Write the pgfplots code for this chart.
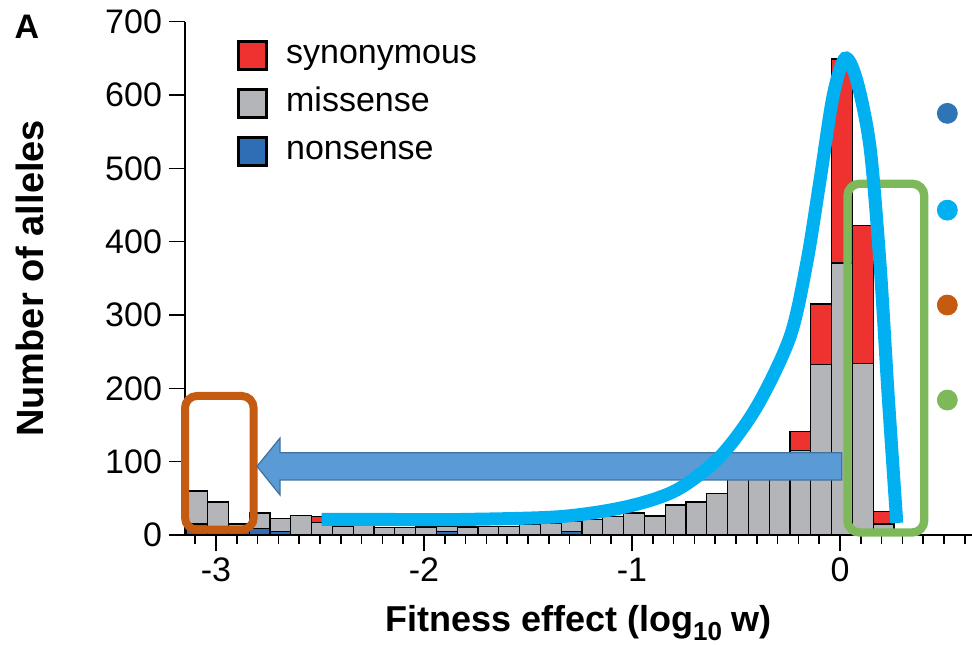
\documentclass[border=0pt]{standalone}
\usepackage{pgfplots}
\pgfplotsset{compat=1.18}
\usepackage{pgfplotstable}
\usepackage{fontspec}
\setmainfont{Liberation Sans}

\definecolor{synred}{HTML}{EE3230}
\definecolor{misgray}{HTML}{B3B5B9}
\definecolor{nonblue}{HTML}{2F6DB5}
\definecolor{curvecyan}{HTML}{00B0F0}
\definecolor{arrowblue}{HTML}{5B9BD5}
\definecolor{arrowedge}{HTML}{41719C}
\definecolor{boxorange}{HTML}{C55A11}
\definecolor{boxgreen}{HTML}{7DB85A}
\definecolor{dotblue}{HTML}{2E75B6}

% histogram of fitness effects, bins of 0.1 log10 units (bin centres)
\pgfplotstableread{
x      non mis syn
-3.09  15  45  0
-2.99  10  35  0
-2.89   8   7  0
-2.79   9  21  0
-2.69   5  18  0
-2.59   0  27  0
-2.49   0  17  8
-2.39   0  12  0
-2.29   0  14  0
-2.19   0  10  0
-2.09   0  10  0
-1.99   0  11  0
-1.89   5   7  0
-1.79   0  11  0
-1.69   0  12  0
-1.59   0  12  0
-1.49   0  15  0
-1.39   0  16  0
-1.29   5  13  0
-1.19   0  21  0
-1.09   0  25  0
-0.99   0  30  0
-0.89   0  26  0
-0.79   0  41  0
-0.69   0  45  0
-0.59   0  57  0
-0.49   0  80  0
-0.39   0 110  0
-0.29   0 113  0
-0.19   0 115 26
-0.09   0 232 83
 0.01   0 371 278
 0.11   0 234 188
 0.21   0  15 17
}\alleles

\pgfplotsset{
  panel/.style={
    scale only axis, width=393.5pt, height=256.65pt,
    xmin=-3.149, xmax=0.6346, ymin=0, ymax=700,
    clip=false,
  },
}

\begin{document}
\begin{tikzpicture}
% stacked histogram
\begin{axis}[
  panel,
  ybar stacked, bar width=0.1,
  axis lines*=left,
  axis line style={line width=0.75pt},
  x axis line style={shorten <=-7pt},
  tick align=outside,
  tick style={black, line width=0.75pt},
  major tick length=8pt, minor tick length=4.5pt,
  ytick={0,100,...,700},
  xtick={-3,-2,-1,0},
  xticklabels={-3,-2,-1,0},
  minor xtick={-3.1,-3.0,...,0.65},
  /pgf/number format/assume math mode=true,
  y tick label style={font=\fontsize{17}{17}\selectfont},
  x tick label style={font=\fontsize{17}{17}\selectfont},
  xlabel={\textbf{Fitness effect (log\raisebox{-0.45ex}{\fontsize{13}{13}\selectfont 10} w)}},
  xlabel style={font=\fontsize{18}{18}\selectfont, at={(axis description cs:0.5,-0.188)}, anchor=base},
  ylabel={\textbf{Number of alleles}},
  ylabel style={font=\fontsize{19}{19}\selectfont, at={(axis description cs:-0.197,0.5)}, anchor=center, rotate=0},
  reverse legend,
  legend cell align=left,
  legend style={at={(axis description cs:0.066,0.97)}, anchor=north west,
    draw=none, fill=none, inner sep=0pt, row sep=6pt,
    font=\fontsize{17}{17}\selectfont,
    nodes={inner sep=1pt, text height=12pt, text depth=4pt},
    /tikz/every odd column/.append style={column sep=8pt}},
  legend image code/.code={\draw[#1, line width=1.4pt] (0pt,-7pt) rectangle (14pt,7pt);},
]
\addplot[fill=nonblue, draw=black, line width=0.6pt] table[x=x, y=non] {\alleles};
\addplot[fill=misgray, draw=black, line width=0.6pt] table[x=x, y=mis] {\alleles};
\addplot[fill=synred,  draw=black, line width=0.6pt] table[x=x, y=syn] {\alleles};
\legend{nonsense, missense, synonymous}

\node[font=\bfseries\fontsize{17}{17}\selectfont] at (rel axis cs:-0.2008,0.9897) {A};

\coordinate (bbA) at (rel axis cs:-0.2351,-0.2124);
\coordinate (bbB) at (rel axis cs:1,1.0423);
\end{axis}

% highlighted regions and the shift arrow
\begin{axis}[panel, hide axis]
\draw[boxorange, line width=4pt, rounded corners=6pt]
  (axis cs:-3.149,7.2) rectangle (axis cs:-2.819,189.6);
\draw[boxgreen, line width=4.2pt, rounded corners=6pt]
  (axis cs:0.036,3.4) rectangle (axis cs:0.405,479);
\filldraw[fill=arrowblue, draw=arrowedge, line width=0.6pt]
  (axis cs:0.008,75) -- (axis cs:-2.692,75) -- (axis cs:-2.692,54.5)
  -- (axis cs:-2.803,93.6) -- (axis cs:-2.692,132.3) -- (axis cs:-2.692,112.2)
  -- (axis cs:0.008,112.2) -- cycle;
\end{axis}

% fitted distribution and colour key dots
\begin{axis}[panel, hide axis]
\addplot[curvecyan, line width=6.5pt, smooth, tension=0.5, line cap=butt] coordinates {
  (-2.492,21.4) (-2.115,21.1) (-1.827,21.1) (-1.346,25) (-1.025,38.6)
  (-0.785,61.4) (-0.577,106.8) (-0.400,175) (-0.240,270.4) (-0.160,371)
  (-0.096,484) (-0.034,597.7) (0.024,650) (0.080,620.5) (0.144,529.5)
  (0.192,371) (0.232,188.6) (0.273,16.4)
};
\addplot[only marks, mark=*, mark size=5pt, dotblue] coordinates {(0.516,575)};
\addplot[only marks, mark=*, mark size=5pt, curvecyan] coordinates {(0.516,443)};
\addplot[only marks, mark=*, mark size=5pt, boxorange] coordinates {(0.516,313.6)};
\addplot[only marks, mark=*, mark size=5pt, boxgreen] coordinates {(0.516,184)};
\end{axis}

\pgfresetboundingbox
\useasboundingbox (bbA) rectangle (bbB);
\end{tikzpicture}
\end{document}
